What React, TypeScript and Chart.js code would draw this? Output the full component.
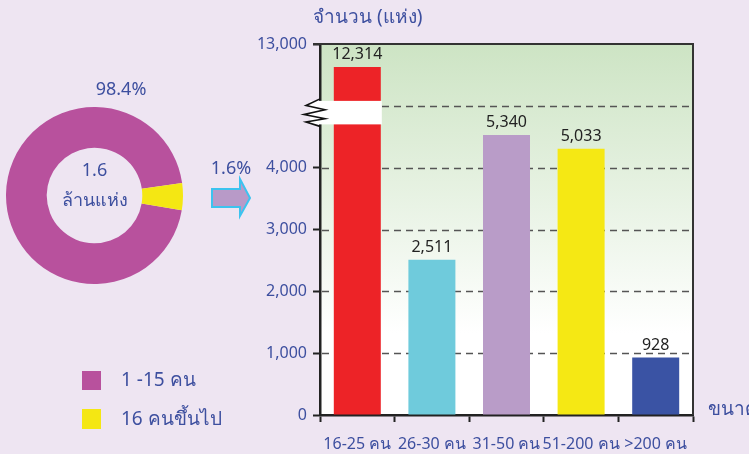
import React, { useEffect, useRef } from "react";
import { Chart, registerables } from "chart.js";

Chart.register(...registerables);

// ---------- data ----------
const categories = ["16-25 คน", "26-30 คน", "31-50 คน", "51-200 คน", ">200 คน"];
const reportedCounts = [12314, 2511, 5340, 5033, 928];
// bar heights as drawn on the broken axis
const drawnHeights = [5630, 2511, 4530, 4304, 928];
const barColors = ["#ed2327", "#6fcbdc", "#b99cc8", "#f5e814", "#3a53a4"];

const yTickValues = [0, 1000, 2000, 3000, 4000, 5000, 6000];
const yTickLabels = ["0", "1,000", "2,000", "3,000", "4,000", "", "13,000"];
const gridValues = [1000, 2000, 3000, 4000, 5000];
const breakRange = [4700, 5080];

const pieLabels = ["1 -15 คน", "16 คนขึ้นไป"];
const pieShareLabels = ["98.4%", "1.6%"];
// slice sizes as drawn in the picture
const pieDrawnShares = [95.1, 4.9];
const pieColors = ["#b8519d", "#f4e713"];
const pieCenterLines = ["1.6", "ล้านแห่ง"];

const yAxisTitle = "จำนวน (แห่ง)";
const xAxisTitle = "ขนาด";

const FONT = "'Noto Sans', 'DejaVu Sans', sans-serif";
const BLUE = "#3d4f9f";
const BG = "#eee5f2";

const fmt = (v: number) => v.toLocaleString("en-US");

export default function App() {
  const barRef = useRef<HTMLCanvasElement | null>(null);
  const pieRef = useRef<HTMLCanvasElement | null>(null);

  useEffect(() => {
    const pie = new Chart(pieRef.current!, {
      type: "doughnut",
      data: {
        labels: pieLabels,
        datasets: [
          {
            data: pieDrawnShares,
            backgroundColor: pieColors,
            borderWidth: 0,
          },
        ],
      },
      options: {
        responsive: false,
        animation: false,
        cutout: "54%",
        rotation: 99.6,
        plugins: { legend: { display: false }, tooltip: { enabled: false } },
        layout: { padding: 0 },
      },
    });

    const deco = {
      id: "deco",
      beforeDraw(chart: any) {
        const { ctx, chartArea: a } = chart;
        const g = ctx.createLinearGradient(0, a.top, 0, a.bottom);
        g.addColorStop(0, "#cde4c4");
        g.addColorStop(0.78, "#ffffff");
        g.addColorStop(1, "#ffffff");
        ctx.save();
        ctx.fillStyle = g;
        ctx.fillRect(a.left, a.top, a.right - a.left, a.bottom - a.top);
        ctx.restore();
      },
      beforeDatasetsDraw(chart: any) {
        const { ctx, chartArea: a, scales } = chart;
        ctx.save();
        ctx.strokeStyle = "#555";
        ctx.lineWidth = 1.4;
        ctx.setLineDash([7, 5]);
        gridValues.forEach((v) => {
          const y = Math.round(scales.y.getPixelForValue(v)) + 0.5;
          ctx.beginPath();
          ctx.moveTo(a.left + 2, y);
          ctx.lineTo(a.right, y);
          ctx.stroke();
        });
        ctx.restore();
      },
      afterDatasetsDraw(chart: any) {
        const { ctx, chartArea: a, scales } = chart;
        const meta = chart.getDatasetMeta(0);
        ctx.save();
        // value labels
        ctx.fillStyle = "#222";
        ctx.font = `16px ${FONT}`;
        ctx.textAlign = "center";
        ctx.textBaseline = "bottom";
        meta.data.forEach((bar: any, i: number) => {
          ctx.fillText(fmt(reportedCounts[i]), bar.x, bar.y - 4);
        });
        // axis break
        const yTop = scales.y.getPixelForValue(breakRange[1]);
        const yBot = scales.y.getPixelForValue(breakRange[0]);
        const red = meta.data[0];
        const right = red.x + red.width / 2 + 1;
        ctx.fillStyle = "#ffffff";
        ctx.fillRect(a.left - 10, yTop, right - (a.left - 10), yBot - yTop);
        const h = yBot - yTop;
        const x0 = a.left;
        ctx.strokeStyle = "#111";
        ctx.lineWidth = 1.6;
        ctx.beginPath();
        ctx.moveTo(x0, yTop - 2);
        ctx.lineTo(x0 - 14, yTop + h * 0.2);
        ctx.lineTo(x0 + 5, yTop + h * 0.38);
        ctx.lineTo(x0 - 16, yTop + h * 0.58);
        ctx.lineTo(x0 + 5, yTop + h * 0.76);
        ctx.lineTo(x0 - 14, yTop + h * 0.9);
        ctx.lineTo(x0, yBot + 2);
        ctx.stroke();
        // top and right frame
        ctx.strokeStyle = "#333";
        ctx.lineWidth = 2;
        ctx.beginPath();
        ctx.moveTo(a.left - 7, a.top);
        ctx.lineTo(a.right, a.top);
        ctx.lineTo(a.right, a.bottom);
        ctx.stroke();
        ctx.restore();
      },
      afterDraw(chart: any) {
        const { ctx } = chart;
        ctx.save();
        ctx.fillStyle = BLUE;
        ctx.textBaseline = "middle";
        ctx.font = `18px ${FONT}`;
        ctx.textAlign = "center";
        ctx.fillText(pieShareLabels[0], 121, 90);
        ctx.fillText(pieCenterLines[0], 94.5, 171);
        ctx.fillText(pieCenterLines[1], 94.5, 201);
        ctx.fillText(pieShareLabels[1], 231, 169);
        ctx.textAlign = "left";
        ctx.font = `19px ${FONT}`;
        ctx.fillText(yAxisTitle, 313, 18);
        ctx.fillText(xAxisTitle, 708, 410);
        ctx.fillText(pieLabels[0], 121, 381);
        ctx.fillText(pieLabels[1], 121, 420);
        // legend squares
        ctx.fillStyle = pieColors[0];
        ctx.fillRect(82, 371, 19, 19);
        ctx.fillStyle = pieColors[1];
        ctx.fillRect(82, 409, 19, 20);
        // arrow
        ctx.beginPath();
        ctx.moveTo(212, 189);
        ctx.lineTo(240, 189);
        ctx.lineTo(240, 179);
        ctx.lineTo(250, 198);
        ctx.lineTo(240, 216);
        ctx.lineTo(240, 207);
        ctx.lineTo(212, 207);
        ctx.closePath();
        ctx.fillStyle = "#b89ac8";
        ctx.fill();
        ctx.strokeStyle = "#3cc3ef";
        ctx.lineWidth = 2;
        ctx.stroke();
        ctx.restore();
      },
    };

    const bar = new Chart(barRef.current!, {
      type: "bar",
      data: {
        labels: categories,
        datasets: [
          {
            data: drawnHeights,
            backgroundColor: barColors,
            borderWidth: 0,
            barPercentage: 0.63,
            categoryPercentage: 1,
          },
        ],
      },
      options: {
        responsive: false,
        animation: false,
        layout: { padding: { left: 250, top: 44, right: 56, bottom: 0 } },
        plugins: { legend: { display: false }, tooltip: { enabled: false } },
        scales: {
          x: {
            afterFit: (s: any) => {
              s.height = 39;
            },
            grid: {
              drawOnChartArea: false,
              drawTicks: true,
              tickLength: 7,
              tickColor: "#222",
              tickWidth: 2,
              offset: true,
            },
            border: { display: true, color: "#222", width: 2.5 },
            ticks: {
              color: BLUE,
              font: { family: FONT, size: 16 },
              padding: 13,
              maxRotation: 0,
              autoSkip: false,
            },
          },
          y: {
            min: 0,
            max: 6000,
            afterFit: (s: any) => {
              s.width = 70;
            },
            afterBuildTicks: (s: any) => {
              s.ticks = yTickValues.map((v) => ({ value: v }));
            },
            grid: {
              drawOnChartArea: false,
              drawTicks: true,
              tickLength: 7,
              tickWidth: 2,
              tickColor: (c: any) =>
                c.tick && c.tick.value === 5000 ? "rgba(0,0,0,0)" : "#222",
            },
            border: { display: true, color: "#222", width: 2.5 },
            ticks: {
              color: BLUE,
              font: { family: FONT, size: 16 },
              padding: 6,
              autoSkip: false,
              callback: (v: any) => {
                const i = yTickValues.indexOf(Number(v));
                return i >= 0 ? yTickLabels[i] : "";
              },
            },
          },
        },
      },
      plugins: [deco],
    });

    return () => {
      bar.destroy();
      pie.destroy();
    };
  }, []);

  return (
    <div
      style={{
        position: "absolute",
        left: 0,
        top: 0,
        width: 749,
        height: 454,
        background: BG,
        overflow: "hidden",
      }}
    >
      <canvas
        ref={pieRef}
        width={177}
        height={177}
        style={{ position: "absolute", left: 6, top: 107, width: 177, height: 177 }}
      />
      <canvas
        ref={barRef}
        width={749}
        height={454}
        style={{ position: "absolute", left: 0, top: 0, width: 749, height: 454 }}
      />
    </div>
  );
}
